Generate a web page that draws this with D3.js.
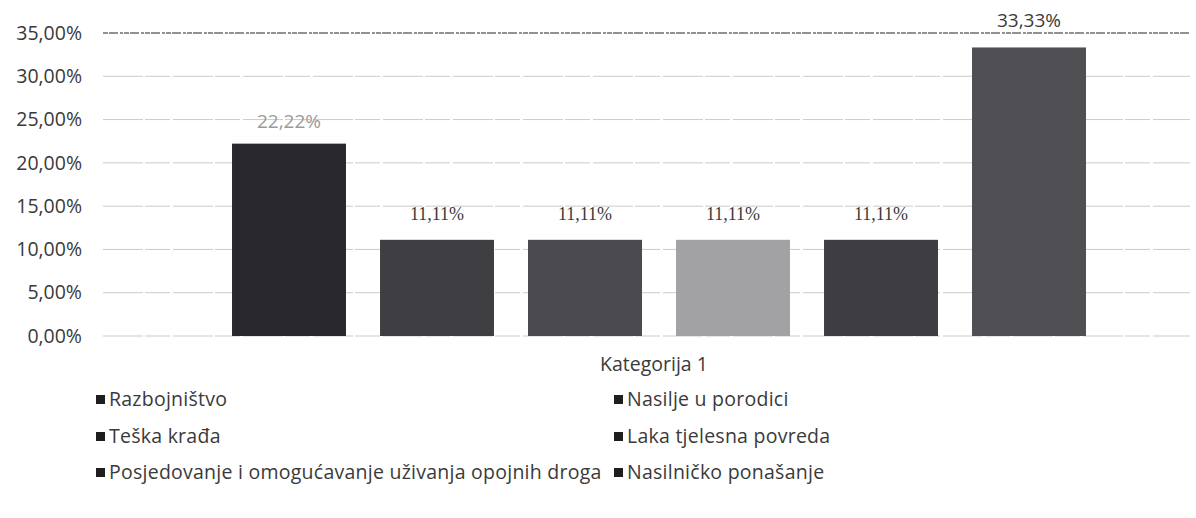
<!DOCTYPE html>
<html>
<head>
<meta charset="utf-8">
<script src="https://cdn.jsdelivr.net/npm/d3@7"></script>
<style>
  html, body { margin: 0; padding: 0; background: #fff; }
  svg { display: block; }
</style>
</head>
<body>
<svg id="chart" width="1196" height="518"></svg>
<script>
// ---- data ----
const category = "Kategorija 1";
const seriesNames = [
  "Razbojništvo",
  "Nasilje u porodici",
  "Teška krađa",
  "Laka tjelesna povreda",
  "Posjedovanje i omogućavanje uživanja opojnih droga",
  "Nasilničko ponašanje"
];
// bar order (left to right) as drawn in the chart
const barOrder = [
  "Razbojništvo",
  "Teška krađa",
  "Posjedovanje i omogućavanje uživanja opojnih droga",
  "Nasilje u porodici",
  "Laka tjelesna povreda",
  "Nasilničko ponašanje"
];
const values = [22.22, 11.11, 11.11, 11.11, 11.11, 33.33];
const valueLabels = ["22,22%", "11,11%", "11,11%", "11,11%", "11,11%", "33,33%"];
const yTicks = [0, 5, 10, 15, 20, 25, 30, 35];
const yTickLabels = ["0,00%", "5,00%", "10,00%", "15,00%", "20,00%", "25,00%", "30,00%", "35,00%"];
const barColors = ["#29282d", "#3f3e42", "#4b4a4e", "#a2a2a4", "#3e3d41", "#504f54"];
const legendColumns = [
  ["Razbojništvo", "Teška krađa", "Posjedovanje i omogućavanje uživanja opojnih droga"],
  ["Nasilje u porodici", "Laka tjelesna povreda", "Nasilničko ponašanje"]
];

// ---- layout ----
const svg = d3.select("#chart");
const font = "'Open Sans', Lato, sans-serif";
const plotLeft = 103, plotRight = 1190;

const y = d3.scaleLinear().domain([0, 35]).range([336, 33]);
const x = d3.scaleBand().domain(barOrder).range([215, 1103]).paddingInner(0.23).paddingOuter(0.115);

// gridlines
svg.append("g").selectAll("line").data(yTicks).join("line")
  .attr("x1", plotLeft).attr("x2", plotRight)
  .attr("y1", d => y(d)).attr("y2", d => y(d))
  .attr("stroke", d => d === 35 ? "#6e6e6e" : "#cbcbcb")
  .attr("stroke-width", d => d === 35 ? 1.5 : 1)
  .attr("stroke-dasharray", d => d === 35 ? "5,1,9,2,3,1" : "40,2,25,3");

// y axis labels
const yAxis = d3.axisLeft(y).tickValues(yTicks).tickSize(0).tickPadding(0)
  .tickFormat((d, i) => yTickLabels[i]);
const ga = svg.append("g").attr("transform", `translate(82,0)`).call(yAxis);
ga.select(".domain").remove();
ga.selectAll("text").attr("font-family", font).attr("font-size", 19.5).attr("fill", "#3a3a3a");

// bars
svg.append("g").selectAll("rect").data(barOrder).join("rect")
  .attr("x", d => x(d))
  .attr("width", x.bandwidth())
  .attr("y", (d, i) => y(values[i]))
  .attr("height", (d, i) => y(0) - y(values[i]))
  .attr("fill", (d, i) => barColors[i]);

// value labels
svg.append("g").selectAll("text").data(barOrder).join("text")
  .attr("x", d => x(d) + x.bandwidth() / 2)
  .attr("y", (d, i) => y(values[i]) - (i === 0 ? 16 : 20))
  .attr("text-anchor", "middle")
  .attr("font-family", (d, i) => (i >= 1 && i <= 4) ? "'Liberation Serif', serif" : font)
  .attr("font-size", (d, i) => (i >= 1 && i <= 4) ? 18 : 19)
  .attr("fill", (d, i) => i === 0 ? "#9a9a9a" : "#3a3a3a")
  .text((d, i) => valueLabels[i]);

// category label
svg.append("text")
  .attr("x", 654)
  .attr("y", 371)
  .attr("text-anchor", "middle")
  .attr("font-family", font).attr("font-size", 19.5).attr("fill", "#3a3a3a")
  .text(category);

// legend
const colX = [96, 614];
const rowY = [406, 443, 479];
legendColumns.forEach((col, ci) => {
  col.forEach((name, ri) => {
    const g = svg.append("g").attr("transform", `translate(${colX[ci]},${rowY[ri]})`);
    g.append("rect").attr("x", 0).attr("y", -11).attr("width", 9).attr("height", 9).attr("fill", "#1e1e1e");
    g.append("text").attr("x", 13).attr("y", 0)
      .attr("font-family", font).attr("font-size", 19.5).attr("letter-spacing", 0.25)
      .attr("fill", "#3a3a3a")
      .text(name);
  });
});
</script>
</body>
</html>
